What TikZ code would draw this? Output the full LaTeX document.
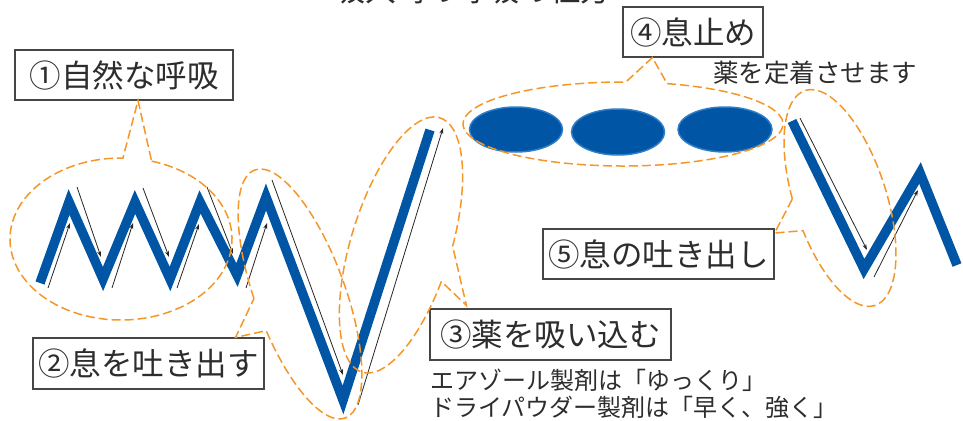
\documentclass[tikz,border=0pt]{standalone}
\usepackage{fontspec}
\newfontfamily\jp{Noto Sans CJK JP}
\usetikzlibrary{arrows.meta}
\definecolor{zigblue}{RGB}{0,85,165}
\definecolor{ovalrim}{RGB}{45,125,200}
\definecolor{calloutorange}{RGB}{245,150,40}
\definecolor{txtgray}{RGB}{45,45,45}
\definecolor{boxgray}{RGB}{70,70,70}
\begin{document}
\begin{tikzpicture}[x=1pt,y=-1pt,
  labelbox/.style={draw=boxgray, line width=1.2pt, inner sep=0pt, text=txtgray,
    font=\jp\fontsize{31.5pt}{31.5pt}\selectfont},
  notetext/.style={inner sep=0pt, text=txtgray},
  zig/.style={draw=zigblue, line width=9.5pt, line join=miter, miter limit=10},
  flow/.style={draw=black!85, line width=0.8pt, -{Stealth[length=6pt,width=4pt]}},
  bubble/.style={draw=calloutorange, line width=1.5pt, dash pattern=on 9pt off 4pt},
  pill/.style={fill=zigblue, draw=ovalrim, line width=1.5pt},
]
\useasboundingbox (0,0) rectangle (963,420);
\clip (0,0) rectangle (963,420);

% title (cut at top)
\node[notetext, anchor=base, font=\jp\fontsize{30.8pt}{30.8pt}\selectfont] (title) at (473,2) {吸入時の呼吸の仕方};

% labels
\node[labelbox, minimum width=218pt, minimum height=50pt] (box1) at (124,75) {①自然な呼吸};
\node[labelbox, minimum width=140pt, minimum height=50pt] (box4) at (693,32) {④息止め};
\node[labelbox, minimum width=231pt, minimum height=51pt] (box2) at (148.5,363.5) {②息を吐き出す};
\node[labelbox, minimum width=241pt, minimum height=51pt] (box3) at (550.5,334.5) {③薬を吸い込む};
\node[labelbox, minimum width=231pt, minimum height=50pt] (box5) at (658.5,254) {⑤息の吐き出し};

\node[notetext, font=\jp\fontsize{25.5pt}{25.5pt}\selectfont] (note4) at (815,73) {薬を定着させます};
\node[notetext, anchor=west, font=\jp\fontsize{24pt}{24pt}\selectfont] (note3a) at (430,380) {エアゾール製剤は「ゆっくり」};
\node[notetext, anchor=west, font=\jp\fontsize{24pt}{24pt}\selectfont] (note3b) at (430,407) {ドライパウダー製剤は「早く、強く」};

% held breath ovals
\fill[pill] (516,129.5) ellipse[x radius=46.5, y radius=22.5];
\fill[pill] (618,132) ellipse[x radius=46.5, y radius=23];
\fill[pill] (725,129.5) ellipse[x radius=47, y radius=22.5];

% breathing lines
\draw[zig] (40,283) -- (69,202) -- (103,279) -- (135,202) -- (170,279) -- (200,202)
  -- (237,275) -- (266,197) -- (343,400) -- (430,130);
\draw[zig] (792,121) -- (864,269) -- (920,173) -- (957,265);

% flow arrows
\draw[flow] (48,288) -- (70,223);
\draw[flow] (77,187) -- (101,257);
\draw[flow] (112,288) -- (133,223);
\draw[flow] (143,188) -- (169,257);
\draw[flow] (177,288) -- (199,224);
\draw[flow] (207,187) -- (233,254);
\draw[flow] (246,288) -- (267,223);
\draw[flow] (272,180) -- (343,375);
\draw[flow] (358,405) -- (443,128);
\draw[flow] (800,118) -- (867,250);
\draw[flow] (874,277) -- (918,190);

% callout tips
\coordinate (tip1) at ([xshift=14pt]box1.south);
\coordinate (tip2) at ([xshift=-29pt]box2.north east);
\coordinate (tip3) at ([shift={(37pt,3pt)}]box3.north west);
\coordinate (tip4) at ([xshift=30pt]box4.south west);
\coordinate (tip5) at ([yshift=21pt]box5.east);

% callouts
\draw[bubble] (121,239) ++(-74:111 and 81)
  arc[start angle=-74, end angle=271, x radius=111, y radius=81] -- (tip1) -- cycle;
\begin{scope}[shift={(300,294)}, rotate=-70]
  \draw[bubble] (95:132 and 45) arc[start angle=95, end angle=440, x radius=132, y radius=45] -- (tip2) -- cycle;
\end{scope}
\begin{scope}[shift={(401,245)}, rotate=73]
  \draw[bubble] (100:133 and 50) arc[start angle=100, end angle=444, x radius=133, y radius=50] -- (tip3) -- cycle;
\end{scope}
\draw[bubble] (623,124) ++(-74:160 and 42)
  arc[start angle=-74, end angle=271, x radius=160, y radius=42] -- (tip4) -- cycle;
\begin{scope}[shift={(840,198)}, rotate=-72]
  \draw[bubble] (97:113 and 46) arc[start angle=97, end angle=440, x radius=113, y radius=46] -- (tip5) -- cycle;
\end{scope}
\end{tikzpicture}
\end{document}
